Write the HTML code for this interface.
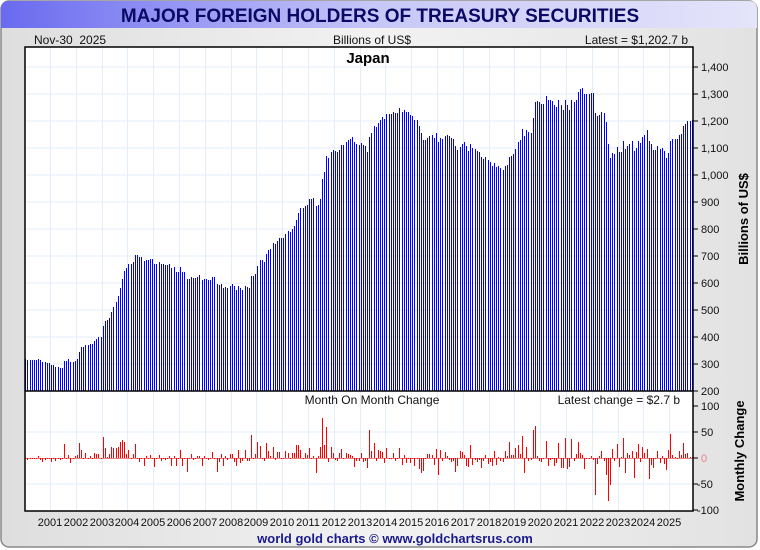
<!DOCTYPE html>
<html><head><meta charset="utf-8"><style>
html,body{margin:0;padding:0;background:#fff;}
svg{display:block;font-family:"Liberation Sans",sans-serif;}
</style></head><body>
<svg id="chart" width="760" height="550" viewBox="0 0 760 550">
<defs>
<linearGradient id="tg" x1="0" x2="1" y1="0" y2="0"><stop offset="0" stop-color="#6a6af0"/><stop offset="0.5" stop-color="#c8c8f8"/><stop offset="1" stop-color="#e4e4fa"/></linearGradient>
<linearGradient id="bg" x1="0" x2="1" y1="0" y2="0"><stop offset="0" stop-color="#dedede"/><stop offset="0.5" stop-color="#f2f2f2"/><stop offset="1" stop-color="#e2e2e2"/></linearGradient>
</defs>
<rect x="1" y="1" width="756" height="546" rx="8" fill="url(#bg)" stroke="#888" stroke-width="1.5"/>
<path d="M1,28 L1,9 Q1,1 9,1 L749,1 Q757,1 757,9 L757,28 Z" fill="url(#tg)"/>
<text x="380" y="22" text-anchor="middle" font-size="19" font-weight="bold" fill="#0a0a66">MAJOR FOREIGN HOLDERS OF TREASURY SECURITIES</text>
<text x="34" y="44" font-size="12" fill="#111" style="white-space:pre">Nov-30  2025</text>
<text x="372" y="44" text-anchor="middle" font-size="12" fill="#111">Billions of US$</text>
<text x="688" y="44" text-anchor="end" font-size="12" fill="#111">Latest = $1,202.7 b</text>
<rect x="25" y="47" width="668" height="464" fill="#fff"/>
<g id="grid" shape-rendering="crispEdges"></g>
<g id="bars" shape-rendering="crispEdges"></g>
<g id="chg" shape-rendering="crispEdges"></g>
<rect x="25" y="47" width="668" height="464" fill="none" stroke="#000" stroke-width="1.5"/>
<line x1="25" y1="391" x2="693" y2="391" stroke="#000" stroke-width="1.5"/>
<text x="368" y="63" text-anchor="middle" font-size="15" font-weight="bold" fill="#000">Japan</text>
<text x="372" y="404" text-anchor="middle" font-size="12" fill="#111">Month On Month Change</text>
<text x="680" y="404" text-anchor="end" font-size="12" fill="#111">Latest change = $2.7 b</text>
<g id="axes"></g>
<text transform="translate(748,219) rotate(-90)" text-anchor="middle" font-size="13" font-weight="bold" fill="#000">Billions of US$</text>
<text transform="translate(744,451) rotate(-90)" text-anchor="middle" font-size="13" font-weight="bold" fill="#000">Monthly Change</text>
<text x="395" y="543" text-anchor="middle" font-size="13" font-weight="bold" fill="#1a1a8c">world gold charts © www.goldchartsrus.com</text>
</svg>
<script>
const years = ["2001","2002","2003","2004","2005","2006","2007","2008","2009","2010","2011","2012","2013","2014","2015","2016","2017","2018","2019","2020","2021","2022","2023","2024","2025"];
const yTicks = [200,300,400,500,600,700,800,900,1000,1100,1200,1300,1400];
const yTickLabels = ["200","300","400","500","600","700","800","900","1,000","1,100","1,200","1,300","1,400"];
const cTicks = [100,50,0,-50,-100];
const holdings = [
319,316,316,316,316,316,319,316,309,306,304,304,
297,296,290,288,285,285,312,312,318,309,309,312,
318,346,362,362,372,372,375,375,384,391,399,399,
440,460,462,470,492,512,531,552,582,616,646,654,
669,669,676,702,702,695,695,680,684,684,690,688,
670,670,676,670,670,666,666,670,654,658,642,642,
658,642,642,616,616,624,620,620,624,628,612,616,
616,612,612,624,624,598,591,598,582,586,582,590,
598,590,575,590,580,575,590,585,580,625,625,632,
662,685,685,679,708,722,726,748,745,756,768,768,
768,782,792,790,800,810,835,860,876,876,885,890,
910,910,914,885,889,910,987,1012,1072,1064,1085,1094,
1090,1085,1094,1112,1112,1122,1129,1135,1139,1122,1116,1110,
1119,1112,1107,1087,1141,1154,1182,1176,1191,1204,1216,1206,
1225,1225,1225,1235,1229,1229,1248,1235,1241,1232,1232,1222,
1220,1204,1204,1182,1154,1129,1129,1137,1144,1150,1137,1154,
1122,1137,1132,1144,1147,1144,1137,1132,1106,1091,1104,1116,
1121,1106,1089,1114,1100,1096,1089,1086,1066,1060,1065,1054,
1047,1032,1045,1031,1032,1026,1019,1032,1036,1066,1071,1077,
1097,1122,1129,1172,1144,1166,1160,1156,1210,1272,1275,1269,
1262,1262,1294,1279,1276,1275,1260,1251,1279,1260,1241,1279,
1258,1240,1276,1270,1277,1308,1317,1323,1301,1301,1301,1305,
1302,1230,1218,1222,1235,1230,1198,1115,1064,1082,1076,1103,
1085,1087,1126,1098,1108,1113,1126,1088,1100,1126,1118,1139,
1148,1166,1126,1113,1093,1093,1106,1096,1100,1088,1064,1080,
1126,1132,1134,1134,1148,1153,1182,1190,1199,1200,1202.7
];
const NS="http://www.w3.org/2000/svg";
const X0=24.2, YR=25.8, MW=YR/12;
function xMonth(i){return X0+(i+0.5)*MW;}
function xYear(k){return X0+(k+1)*YR;}
function yVal(v){return 391-(v-200)*0.27;}
function yChg(v){return 458-v*0.52;}
function mk(tag,attrs,parent){const e=document.createElementNS(NS,tag);for(const k in attrs)e.setAttribute(k,attrs[k]);parent.appendChild(e);return e;}
const grid=document.getElementById('grid'),bars=document.getElementById('bars'),chg=document.getElementById('chg'),axes=document.getElementById('axes');
years.forEach((y,k)=>{
  const x=Math.round(xYear(k));
  const l=mk('line',{x1:x+0.5,y1:47,x2:x+0.5,y2:511,stroke:'#e3eef8','stroke-width':1},grid);
  
  
  const t=mk('text',{x:x,y:526,'text-anchor':'middle','font-size':11,fill:'#111'},axes);
  t.textContent=y;
  
  
});
yTicks.forEach((v,i)=>{
  const y=yVal(v);
  if(v>200){const l=mk('line',{x1:25,y1:y,x2:693,y2:y,stroke:'#e3eef8','stroke-width':1},grid);
  
  }
  const tk=mk('line',{x1:693,y1:y,x2:698,y2:y,stroke:'#000'},axes);
  
  
  const t=mk('text',{x:701,y:y+4,'font-size':11,fill:'#111'},axes);
  t.textContent=yTickLabels[i];
  
  
});
cTicks.forEach(v=>{
  const y=yChg(v);
  if(v!==0&&Math.abs(v)<100){const l=mk('line',{x1:25,y1:y,x2:693,y2:y,stroke:'#e3eef8','stroke-width':1},grid);
  
  }
  const tk=mk('line',{x1:693,y1:y,x2:698,y2:y,stroke:'#000'},axes);
  
  
  const t=mk('text',{x:v<0?697:701,y:y+4,'font-size':11,fill:v===0?'#f08080':'#111'},axes);
  t.textContent=String(v);
  
  
});
holdings.forEach((v,i)=>{
  const x=Math.round(xMonth(i)),y=Math.round(yVal(v));
  const r=mk('rect',{x:x,y:y,width:1,height:391-y,fill:'#0000ff'},bars);
  
  
});
const zl=mk('line',{x1:25,y1:458.5,x2:693,y2:458.5,stroke:'#f08080','stroke-width':1},chg);


holdings.forEach((v,i)=>{
  if(i===0)return;
  const d=v-holdings[i-1];
  const x=Math.round(xMonth(i)),y=Math.round(yChg(d));
  const r=mk('rect',{x:x,y:Math.min(y,458),width:1,height:Math.max(Math.abs(458-y),1),fill:'#ff0000'},chg);
  
  
});
</script>
</body></html>
